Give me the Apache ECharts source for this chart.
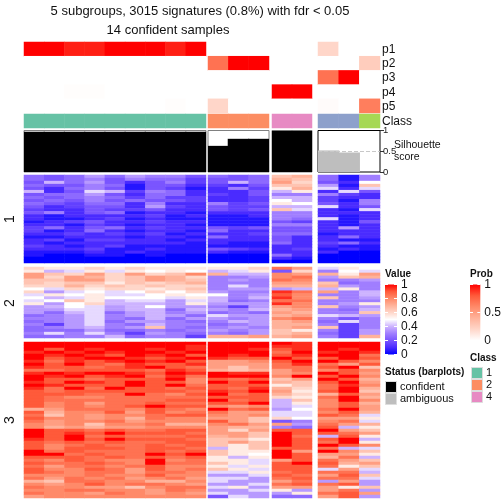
<!DOCTYPE html>
<html><head><meta charset="utf-8">
<style>html,body{margin:0;padding:0;background:#fff}#c{width:504px;height:504px}</style>
<script src="https://cdn.jsdelivr.net/npm/echarts@6/dist/echarts.min.js"></script>
</head><body><div id="c"></div>
<script>
// slice values are twentieths of the scale (0..20), one row per line, 17 sample columns
const groupSizes=[9,3,2,3];
const pLabels=['p1','p2','p3','p4','p5'];
const p1=[1,1,.93,.93,1,1,1,.93,1, 0,0,0, 0,0, .2,0,0];
const p2=[0,0,0,0,0,0,0,0,0, .7,1,1, 0,0, 0,0,.25];
const p3=[0,0,0,0,0,0,0,0,0, 0,0,0, 0,0, .7,1,0];
const p4=[0,0,.01,.01,0,0,0,0,0, 0,0,0, 1,1, 0,0,0];
const p5=[0,0,0,0,0,0,0,.01,0, .2,0,0, 0,0, .02,0,.65];
const classColors=['#66c2a5','#66c2a5','#66c2a5','#66c2a5','#66c2a5','#66c2a5','#66c2a5','#66c2a5','#66c2a5','#fc8d62','#fc8d62','#fc8d62','#e78ac3','#e78ac3','#8da0cb','#8da0cb','#a6d854'];
const silhouette=[.97,.97,.97,.97,.97,.97,.97,.97,.97, .63,.8,.8, .99,.99, .52,.47,0];
const silhouetteStatus=[0,0,0,0,0,0,0,0,0, 0,0,0, 0,0, 1,1,1];
const slice1=[
[5,4,5,7,5,7,6,6,4,5,4,5,13,14,5,1,6],
[5,4,5,6,4,6,5,5,3,4,4,5,14,13,5,1,6],
[4,8,5,7,4,2,4,6,3,4,8,5,15,12,4,2,10],
[5,4,4,6,5,1,4,4,2,3,2,4,13,13,7,1,13],
[4,2,5,6,4,1,4,3,1,2,6,3,11,14,9,2,9],
[8,2,4,9,8,3,6,5,2,2,2,4,8,11,2,9,4],
[4,5,5,7,4,2,5,5,2,3,2,4,6,6,6,3,2],
[5,4,5,6,5,3,5,3,3,2,2,3,8,8,3,2,2],
[4,5,4,6,4,5,4,4,3,2,2,3,10,8,3,1,6],
[5,4,3,5,5,2,6,2,2,6,3,4,11,10,4,2,6],
[4,2,3,4,4,2,7,3,2,4,3,3,8,8,9,2,4],
[3,2,2,4,3,3,4,2,2,4,3,4,13,9,2,1,9],
[4,6,2,4,5,1,2,2,1,2,2,2,6,6,2,2,2],
[2,1,2,2,2,2,3,1,2,1,1,2,6,6,2,1,2],
[2,1,1,2,3,1,2,1,1,1,1,1,6,5,9,1,2],
[1,2,3,4,2,2,3,2,2,1,1,1,4,3,2,1,4],
[2,2,1,3,2,1,2,2,1,1,1,1,6,6,2,1,2],
[3,5,2,4,5,2,3,2,2,4,3,4,4,4,2,7,2],
[3,1,2,5,2,1,2,2,1,5,2,2,4,4,2,2,2],
[2,2,3,2,3,2,3,1,2,2,2,3,5,5,1,2,2],
[1,1,2,2,2,1,2,2,1,5,2,2,4,2,2,5,2],
[2,3,1,3,3,2,2,1,2,2,2,2,4,2,2,1,1],
[2,1,2,2,2,2,2,2,1,2,1,1,5,2,3,5,2],
[3,2,1,2,3,1,1,1,1,1,1,1,2,2,2,1,1],
[2,2,2,3,1,1,2,1,1,4,3,2,2,3,1,2,1],
[1,1,1,2,1,2,1,1,1,2,1,1,2,2,2,0,0],
[1,0,0,1,1,0,1,0,0,0,0,0,5,2,0,0,0],
[0,0,0,0,0,0,0,0,0,0,0,0,2,1,0,0,0],
[0,0,0,0,0,0,0,0,0,0,0,0,0,0,0,0,0]];
const slice2=[
[12,11,11,12,11,12,11,11,11,11,11,12,17,15,9,11,10],
[11,8,9,11,9,11,10,11,10,8,9,11,4,12,6,10,9],
[15,13,12,15,12,15,12,13,16,14,8,8,16,15,14,11,15],
[15,12,15,14,12,13,15,14,12,6,6,7,16,17,7,13,14],
[13,13,15,15,12,13,15,14,13,6,7,6,17,16,6,6,7],
[13,12,13,13,11,13,12,13,14,6,6,6,15,15,13,5,6],
[12,12,14,12,13,12,13,12,12,6,9,6,14,14,14,7,6],
[10,9,12,11,12,12,11,12,13,6,7,7,7,8,8,11,6],
[12,7,9,10,9,10,12,10,12,7,6,6,19,17,15,6,8],
[9,11,10,11,9,9,10,11,10,10,6,7,18,16,6,6,8],
[10,8,9,11,10,10,10,9,11,8,6,8,19,16,13,6,7],
[9,10,13,11,8,9,9,7,9,8,5,6,17,17,6,6,6],
[11,7,10,12,8,8,8,7,11,7,7,7,19,16,6,7,11],
[7,8,10,9,7,8,10,7,7,6,3,7,15,16,13,6,7],
[7,7,9,9,7,8,8,5,8,7,6,8,14,15,6,5,8],
[7,5,8,9,5,7,8,6,7,5,6,5,15,14,6,6,13],
[5,6,7,9,6,7,8,7,5,9,7,7,14,15,9,8,7],
[6,6,7,9,6,5,8,5,7,7,6,7,16,17,6,4,6],
[5,6,7,9,5,7,7,6,5,6,8,7,14,15,5,9,6],
[6,3,7,9,6,5,8,6,6,5,6,7,14,14,6,3,6],
[5,6,7,8,6,7,13,6,5,6,7,6,14,15,13,3,6],
[5,5,5,7,5,5,6,5,6,7,6,7,13,11,6,3,7],
[6,9,6,9,6,3,7,6,5,6,5,7,13,14,5,3,7],
[5,5,6,6,8,5,6,6,3,14,14,15,14,15,6,3,14]];
const slice3=[
[20,20,20,20,20,20,20,20,20,20,20,20,20,19,20,20,20],
[20,20,20,20,20,20,20,20,19,20,20,20,19,19,20,20,20],
[20,18,20,19,20,20,19,20,19,20,20,19,18,19,20,19,20],
[19,20,19,20,19,20,20,19,20,20,20,20,17,20,19,20,19],
[20,19,20,19,18,20,19,20,18,20,19,20,18,19,20,20,17],
[20,18,19,20,20,19,18,19,20,19,18,18,20,18,18,20,18],
[19,17,19,18,19,20,19,20,18,15,15,16,18,20,20,18,16],
[20,18,20,18,17,19,18,18,19,15,15,15,17,19,17,15,18],
[19,18,18,17,18,19,20,18,17,15,13,15,17,17,18,20,13],
[17,17,18,18,18,18,17,19,18,14,13,14,15,17,16,18,16],
[19,20,19,20,20,19,18,20,19,20,19,19,15,16,20,18,15],
[20,19,20,18,19,20,17,19,17,20,20,20,16,20,18,20,16],
[20,18,18,17,18,18,18,20,16,18,17,18,13,15,20,18,14],
[19,18,20,19,18,20,18,18,16,20,18,20,14,13,18,20,15],
[20,19,18,18,18,20,18,20,17,18,18,18,11,13,17,19,16],
[19,17,20,17,20,18,18,17,18,18,17,19,14,12,17,20,14],
[18,17,18,18,18,18,18,18,17,19,18,20,15,11,18,20,13],
[18,18,18,17,17,20,17,16,18,20,17,18,14,12,14,18,15],
[18,17,16,16,17,17,17,17,17,18,18,18,12,11,17,20,14],
[18,17,17,17,17,17,17,18,18,20,17,18,8,13,16,20,16],
[18,16,17,15,17,17,18,17,17,18,18,20,8,11,16,18,14],
[18,16,17,16,17,18,20,18,18,16,15,16,8,9,16,18,15],
[14,15,17,17,17,16,18,17,16,20,17,18,7,10,17,20,15],
[18,14,16,16,18,15,18,16,17,17,15,15,9,9,16,18,14],
[17,13,16,15,16,16,17,18,18,16,15,16,9,9,18,17,9],
[18,16,16,15,16,14,17,16,16,15,15,13,12,10,15,15,11],
[17,15,16,16,17,15,16,16,16,18,15,13,4,6,16,17,9],
[16,15,16,13,16,16,17,14,14,16,17,15,15,7,17,15,14],
[16,14,15,14,15,15,16,16,16,15,14,14,6,5,18,8,11],
[20,18,18,17,18,17,17,18,18,15,12,15,18,18,20,15,13],
[20,18,19,18,20,18,18,18,17,15,15,13,20,18,18,17,15],
[20,18,20,17,18,17,17,17,18,14,15,13,20,17,8,18,11],
[19,18,20,18,20,18,18,18,17,13,13,11,20,18,18,20,8],
[18,17,18,17,18,17,17,18,18,13,15,13,20,18,17,20,11],
[18,16,17,18,17,17,18,17,18,13,11,13,20,18,20,18,16],
[18,16,18,18,18,17,18,18,17,8,11,13,18,18,17,8,9],
[20,17,18,17,17,17,18,17,18,13,11,11,20,15,20,16,13],
[20,20,17,18,17,17,20,18,20,13,11,10,20,18,15,15,11],
[18,18,18,17,18,17,18,17,18,11,8,11,20,18,14,17,8],
[17,16,18,17,16,16,20,16,17,11,11,9,15,18,17,15,13],
[18,17,17,18,17,16,20,17,17,13,11,9,18,20,18,14,15],
[17,15,17,17,16,17,18,16,16,11,9,11,18,18,17,11,13],
[18,16,16,18,17,15,18,16,17,13,11,9,18,18,9,15,9],
[18,17,16,17,17,15,17,17,16,9,9,11,17,18,17,17,8],
[16,16,16,17,16,16,18,16,16,7,7,9,18,17,15,18,13],
[17,15,17,16,17,15,16,17,15,9,9,7,17,18,17,17,9],
[14,13,17,17,16,16,14,14,16,9,7,7,15,17,7,15,7],
[16,15,16,18,16,17,17,16,15,7,7,9,17,18,17,18,7],
[17,16,16,15,15,13,16,17,17,9,11,7,15,15,15,11,13],
[16,16,17,17,16,16,15,17,16,7,7,9,11,7,15,17,7],
[17,16,16,15,17,16,15,16,15,9,7,7,7,11,17,18,15],
[15,16,16,16,16,16,16,16,16,4,9,7,5,5,15,18,7]];

const valueStops=['#0000ff','#4a2bff','#7a55ff','#a07eff','#cdb3ff','#ffffff','#ffd6c9','#ffb29a','#ff8a69','#ff5a3a','#ff0000'];
const probStops=['#ffffff','#ffd6c9','#ffb29a','#ff8a69','#ff5a3a','#ff0000'];
const xGroups=[[24,182],[208,61],[272,40],[318,62]];
const font='"Liberation Sans",Arial,sans-serif';

const chart=echarts.init(document.getElementById('c'),null,{renderer:'canvas'});
const grids=[],xAxes=[],yAxes=[],series=[],valueIdx=[],probIdx=[],extraY=[];
function panel(left,width,top,height,cats,rows){
  const i=grids.length;
  grids.push({left,top,width,height,show:false});
  xAxes.push({gridIndex:i,type:'category',data:cats,show:false});
  yAxes.push({gridIndex:i,type:'category',inverse:true,data:rows,show:false});
  return i;
}
let offset=0;
groupSizes.forEach((n,g)=>{
  const [left,width]=xGroups[g];
  const cols=[];for(let c=0;c<n;c++)cols.push(String(offset+c));
  const pick=a=>a.slice(offset,offset+n);
  let gi=panel(left,width,42,71,cols,pLabels);
  probIdx.push(series.length);
  const pd=[];[p1,p2,p3,p4,p5].forEach((a,r)=>pick(a).forEach((v,c)=>pd.push([c,r,v])));
  series.push({type:'heatmap',xAxisIndex:gi,yAxisIndex:gi,data:pd,silent:true,progressive:0});
  gi=panel(left,width,114,14,cols,['Class']);
  series.push({type:'heatmap',xAxisIndex:gi,yAxisIndex:gi,silent:true,progressive:0,
    data:pick(classColors).map((col,c)=>({value:[c,0,1],itemStyle:{color:col}}))});
  const i=grids.length;
  const last=g===3;
  grids.push({left,top:130.5,width,height:41.5,show:true,backgroundColor:'#fff',borderColor:last?'#000':'#808080',borderWidth:1});
  xAxes.push({gridIndex:i,type:'category',data:cols,show:false});
  yAxes.push({gridIndex:i,type:'value',min:0,max:1,interval:.5,position:'right',show:last,
    splitLine:{show:false},axisLine:{show:false},
    axisTick:{show:last,length:4,lineStyle:{color:'#333'}},
    axisLabel:{show:last,margin:3,fontSize:9.5,color:'#222',fontFamily:font}});
  const sv=pick(silhouette),st=pick(silhouetteStatus);
  const bar={type:'bar',xAxisIndex:i,yAxisIndex:i,barWidth:'106%',silent:true,
    data:sv.map((v,c)=>({value:v,itemStyle:{color:st[c]?'#bebebe':'#000',borderWidth:0,borderRadius:0}}))};
  if(last)bar.markLine={silent:true,symbol:'none',z:10,label:{show:false},lineStyle:{color:'#c8c8c8',type:'dashed',width:1},data:[{yAxis:.5}]};
  series.push(bar);
  [[slice1,175,88],[slice2,267,71],[slice3,342,156]].forEach(([m,top,h])=>{
    const gj=panel(left,width,top,h,cols,m.map((_,r)=>String(r)));
    valueIdx.push(series.length);
    const d=[];m.forEach((row,r)=>row.slice(offset,offset+n).forEach((v,c)=>d.push([c,r,v/20])));
    series.push({type:'heatmap',xAxisIndex:gj,yAxisIndex:gj,data:d,silent:true,progressive:0});
  });
  offset+=n;
});

function colourBar(left,top,width,height,stops,interval){
  const i=grids.length;
  const n=stops.length-1;
  grids.push({left,top,width,height,show:true,borderWidth:0,
    backgroundColor:new echarts.graphic.LinearGradient(0,1,0,0,stops.map((c,k)=>({offset:k/n,color:c})))});
  xAxes.push({gridIndex:i,type:'category',data:['a'],show:false});
  const tick={show:true,inside:true,length:3,lineStyle:{color:'#fff'}};
  yAxes.push({gridIndex:i,type:'value',min:0,max:1,interval,position:'right',
    axisLine:{show:false},splitLine:{show:false},axisTick:tick,
    axisLabel:{margin:4,fontSize:12,color:'#111',fontFamily:font,formatter:v=>String(+v.toFixed(1))}});
  extraY.push({gridIndex:i,type:'value',min:0,max:1,interval,position:'left',
    axisLine:{show:false},splitLine:{show:false},axisTick:tick,axisLabel:{show:false}});
  series.push({type:'bar',xAxisIndex:i,yAxisIndex:i,data:[],silent:true});
}
colourBar(385,284.5,12,70,valueStops,.2);
colourBar(470,284.5,12,56,probStops,.5);

function txt(x,y,s,o){return {type:'text',x,y,silent:true,z:20,style:Object.assign({text:s,font:'12px '+font,fill:'#111',verticalAlign:'middle',align:'left'},o||{})};}
const g=[];
g.push(txt(200,11,'5 subgroups, 3015 signatures (0.8%) with fdr < 0.05',{font:'13px '+font,align:'center'}));
g.push(txt(168,30,'14 confident samples',{font:'13px '+font,align:'center'}));
['p1','p2','p3','p4','p5','Class'].forEach((s,k)=>g.push(txt(382,[50,64,78,93,107,122][k],s)));
g.push(txt(394,145,'Silhouette',{font:'10.5px '+font}));
g.push(txt(394,157,'score',{font:'10.5px '+font}));
[['1',219],['2',303],['3',420]].forEach(([s,y])=>g.push({type:'text',x:10,y,rotation:Math.PI/2,silent:true,z:20,style:{text:s,font:'14px '+font,fill:'#111',align:'center',verticalAlign:'middle'}}));
const bold='bold 10px '+font;
g.push(txt(385,274,'Value',{font:bold}));
g.push(txt(470,274,'Prob',{font:bold}));
g.push(txt(385,372,'Status (barplots)',{font:bold}));
g.push(txt(470,358,'Class',{font:bold}));
[['confident','#000',381],['ambiguous','#bebebe',393]].forEach(([s,c,y])=>{
  g.push({type:'rect',shape:{x:385.5,y:y+.5,width:11,height:11},style:{fill:c,stroke:'#ddd',lineWidth:1},silent:true,z:20});
  g.push(txt(400,y+6,s,{font:'11px '+font}));
});
[['1','#66c2a5',367],['2','#fc8d62',379],['4','#e78ac3',391]].forEach(([s,c,y])=>{
  g.push({type:'rect',shape:{x:471.5,y:y+.5,width:11,height:11},style:{fill:c,stroke:'#ddd',lineWidth:1},silent:true,z:20});
  g.push(txt(486,y+6,s,{font:'11px '+font}));
});

chart.setOption({animation:false,backgroundColor:'#fff',grid:grids,xAxis:xAxes,yAxis:yAxes.concat(extraY),series,
  visualMap:[
    {show:false,type:'continuous',min:0,max:1,seriesIndex:valueIdx,inRange:{color:valueStops}},
    {show:false,type:'continuous',min:0,max:1,seriesIndex:probIdx,inRange:{color:probStops}}
  ],graphic:{elements:g}});
</script></body></html>
